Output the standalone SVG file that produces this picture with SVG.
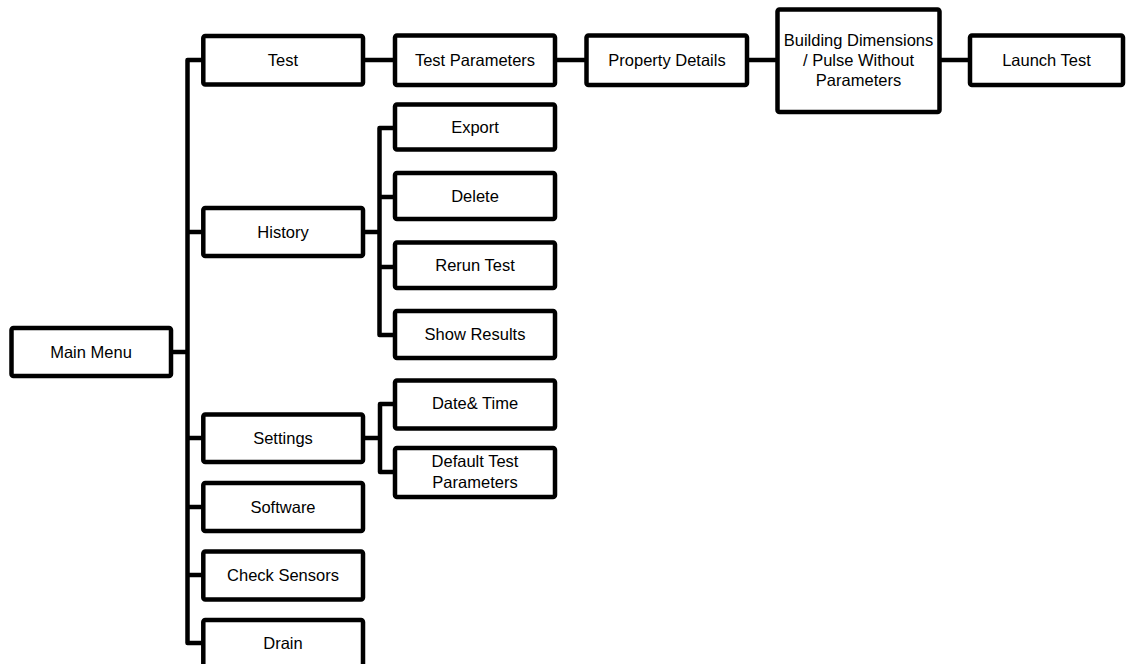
<svg xmlns="http://www.w3.org/2000/svg" width="1126" height="664" viewBox="0 0 1126 664">
  <style>
    .box { fill: #ffffff; stroke: #000000; stroke-width: 4.5; }
    .lbl { font-family: "Liberation Sans", Arial, sans-serif; font-size: 16.5px; fill: #000000; text-anchor: middle; }
    .conn { fill: none; stroke: #000000; stroke-width: 4.5; stroke-linejoin: round; stroke-linecap: butt; }
  </style>
  <rect width="1126" height="664" fill="#ffffff"/>
  <g id="connectors">
    <path class="conn" d="M171 352 H187.5"/>
    <path class="conn" d="M203 60 H187.5 V643 H203"/>
    <path class="conn" d="M187.5 232 H203"/>
    <path class="conn" d="M187.5 438 H203"/>
    <path class="conn" d="M187.5 507 H203"/>
    <path class="conn" d="M187.5 575 H203"/>
    <path class="conn" d="M363 60 H395"/>
    <path class="conn" d="M555 60 H586.5"/>
    <path class="conn" d="M747 60 H777.5"/>
    <path class="conn" d="M939.5 60 H970"/>
    <path class="conn" d="M363 232 H379.5"/>
    <path class="conn" d="M395 128 H379.5 V335 H395"/>
    <path class="conn" d="M379.5 197 H395"/>
    <path class="conn" d="M379.5 267 H395"/>
    <path class="conn" d="M363 438 H380"/>
    <path class="conn" d="M395 404 H380 V472 H395"/>
  </g>
  <g id="main-menu"><rect class="box" x="11.5" y="328" width="159.5" height="48" rx="2"/><text class="lbl" x="91" y="358">Main Menu</text></g>
  <g id="test"><rect class="box" x="203.3" y="36" width="159.7" height="48.5" rx="2"/><text class="lbl" x="283" y="66">Test</text></g>
  <g id="history"><rect class="box" x="203.3" y="208" width="159.7" height="48" rx="2"/><text class="lbl" x="283" y="238">History</text></g>
  <g id="settings"><rect class="box" x="203.3" y="414.5" width="159.7" height="47.5" rx="2"/><text class="lbl" x="283" y="444">Settings</text></g>
  <g id="software"><rect class="box" x="203.3" y="483" width="159.7" height="48" rx="2"/><text class="lbl" x="283" y="513">Software</text></g>
  <g id="check-sensors"><rect class="box" x="203.3" y="551.5" width="159.7" height="48" rx="2"/><text class="lbl" x="283" y="581">Check Sensors</text></g>
  <g id="drain"><rect class="box" x="203.3" y="620" width="159.7" height="48" rx="2"/><text class="lbl" x="283" y="649">Drain</text></g>
  <g id="test-parameters"><rect class="box" x="395" y="35.5" width="160" height="49.5" rx="2"/><text class="lbl" x="475" y="66">Test Parameters</text></g>
  <g id="property-details"><rect class="box" x="586.5" y="35.5" width="160.5" height="49.5" rx="2"/><text class="lbl" x="667" y="66">Property Details</text></g>
  <g id="building-dimensions"><rect class="box" x="777.5" y="9.5" width="162" height="102.5" rx="2"/><text class="lbl" x="858.5" y="46">Building Dimensions</text><text class="lbl" x="858.5" y="66">/ Pulse Without</text><text class="lbl" x="858.5" y="86">Parameters</text></g>
  <g id="launch-test"><rect class="box" x="970" y="35.5" width="153" height="49.5" rx="2"/><text class="lbl" x="1046.5" y="66">Launch Test</text></g>
  <g id="export"><rect class="box" x="395" y="104.5" width="160" height="45" rx="2"/><text class="lbl" x="475" y="133">Export</text></g>
  <g id="delete"><rect class="box" x="395" y="173" width="160" height="46" rx="2"/><text class="lbl" x="475" y="202">Delete</text></g>
  <g id="rerun-test"><rect class="box" x="395" y="242.5" width="160" height="45.5" rx="2"/><text class="lbl" x="475" y="271">Rerun Test</text></g>
  <g id="show-results"><rect class="box" x="395" y="311" width="160" height="47" rx="2"/><text class="lbl" x="475" y="340">Show Results</text></g>
  <g id="date-time"><rect class="box" x="395" y="380.5" width="160" height="48" rx="2"/><text class="lbl" x="475" y="409">Date&amp; Time</text></g>
  <g id="default-test-parameters"><rect class="box" x="395" y="448" width="160" height="49" rx="2"/><text class="lbl" x="475" y="466.5">Default Test</text><text class="lbl" x="475" y="487.5">Parameters</text></g>
</svg>
